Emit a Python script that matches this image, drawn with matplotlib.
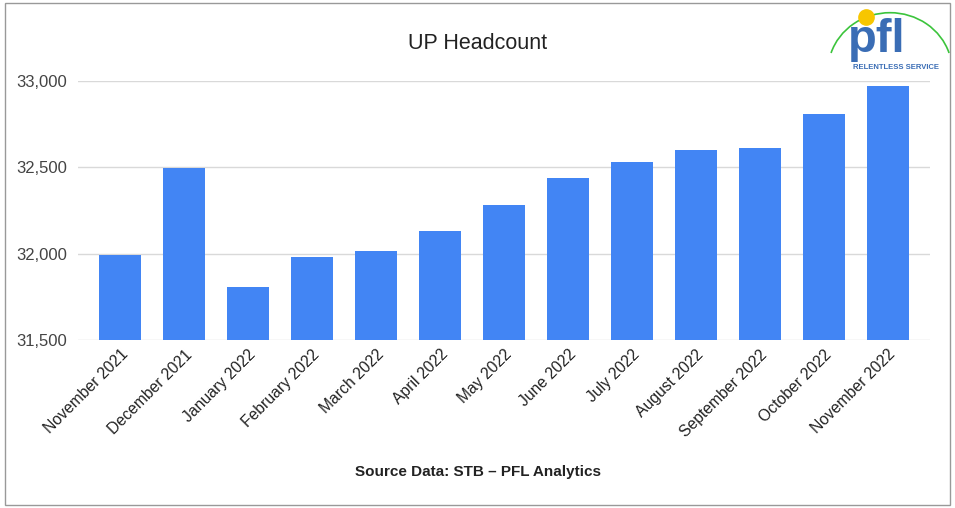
import matplotlib.pyplot as plt
from matplotlib.patches import Rectangle, Arc
from matplotlib.lines import Line2D

plt.rcParams['font.family'] = ['Liberation Sans', 'DejaVu Sans']

months = ['November 2021', 'December 2021', 'January 2022', 'February 2022', 'March 2022',
          'April 2022', 'May 2022', 'June 2022', 'July 2022', 'August 2022',
          'September 2022', 'October 2022', 'November 2022']
headcount = [31990, 32495, 31804, 31982, 32014, 32131, 32281, 32436, 32532, 32600,
             32610, 32807, 32971]
yticks = [31500, 32000, 32500, 33000]

fig = plt.figure(figsize=(9.55, 5.08), dpi=100)
ax = fig.add_axes([0.0817, 0.3307, 0.892, 0.51])

x = range(len(months))
ax.bar(x, [h - 31500 for h in headcount], bottom=31500, width=0.66, color='#4285f4', zorder=3)
ax.set_xlim(-0.66, len(months) - 1 + 0.66)
ax.set_ylim(31500, 33000)
ax.set_yticks(yticks)
ax.set_yticklabels([f'{v:,}' for v in yticks], fontsize=12, color='#444444')
ax.set_xticks(list(x))
ax.set_xticklabels(months, rotation=45, ha='right', rotation_mode='anchor', fontsize=11.3, color='#222222')
ax.tick_params(axis='y', length=0, pad=8)
ax.tick_params(axis='x', length=0, pad=5)
ax.grid(axis='y', color='#d9d9d9', linewidth=1, zorder=0)
for s in ax.spines.values():
    s.set_visible(False)

fig.text(0.5, 0.915, 'UP Headcount', ha='center', va='center', fontsize=15.5, color='#222222')
fig.text(0.5, 0.07, 'Source Data: STB – PFL Analytics', ha='center', va='center',
         fontsize=11, fontweight='bold', color='#222222')

# figure border
fig.patches.append(Rectangle((0.005, 0.006), 0.99, 0.988, transform=fig.transFigure,
                             fill=False, edgecolor='#999999', linewidth=1))

# logo
fig.patches.append(Arc((0.932, 0.86), 0.13, 0.23, theta1=30, theta2=150,
                       transform=fig.transFigure, color='#3cc43c', linewidth=1.2))
fig.add_artist(Line2D([0.907], [0.966], marker='o', markersize=11, color='#f7c600',
                      transform=fig.transFigure))
fig.text(0.918, 0.898, 'pfl', ha='center', va='baseline', fontsize=34, fontweight='bold',
         color='#3a6db5')
fig.text(0.938, 0.868, 'RELENTLESS SERVICE', ha='center', va='center', fontsize=5.5,
         fontweight='bold', color='#3a6db5')

fig.savefig('out.png', dpi=100)
